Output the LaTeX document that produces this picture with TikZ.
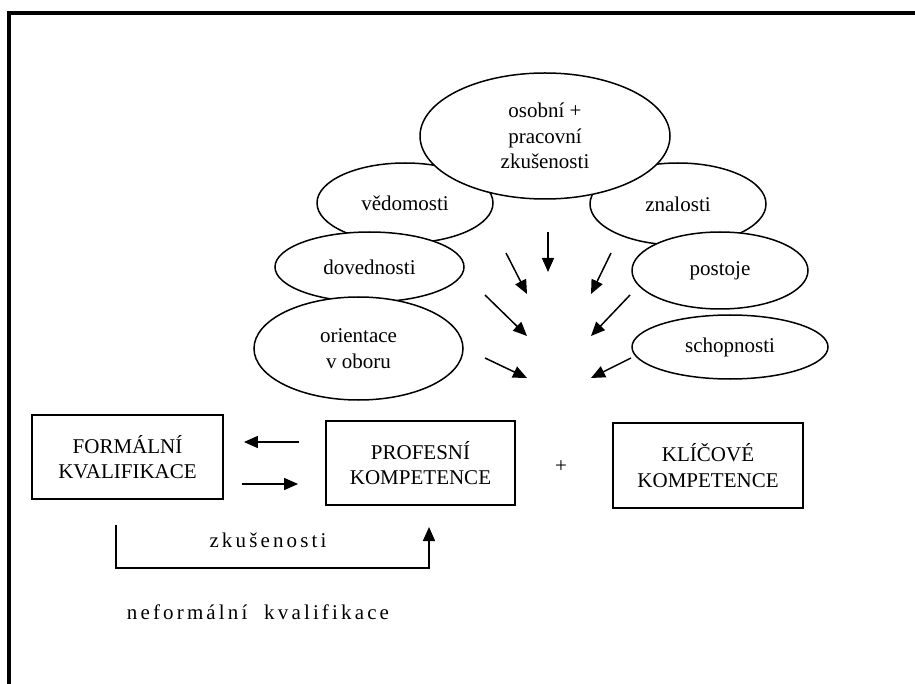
\documentclass[tikz,border=0pt]{standalone}
\usepackage{fontspec}
\setmainfont{Liberation Serif}
\usetikzlibrary{arrows.meta,calc,shapes.geometric}
\tikzset{
  bubble/.style={ellipse,draw,fill=white,line width=1.5pt,inner sep=0pt,align=center},
  box/.style={rectangle,draw,line width=1.8pt,inner sep=0pt,align=center,minimum width=190pt,minimum height=84pt},
  arr/.style={line width=1.5pt,-{Triangle[length=14pt,width=12pt]}},
  spaced/.style={font=\fontsize{21}{25}\selectfont\addfontfeature{LetterSpace=15}}
}

\begin{document}
\begin{tikzpicture}[x=1pt,y=-1pt,font=\fontsize{21}{25.5}\selectfont]
\useasboundingbox (0,0) rectangle (915,684);
\draw[line width=4pt] (9,684) -- (9,13.5) -- (915,13.5);

\node[bubble,minimum width=176pt,minimum height=80pt] (vedomosti) at (405,203) {vědomosti};
\node[bubble,minimum width=176pt,minimum height=82pt] (znalosti) at (678,204) {znalosti};
\node[bubble,minimum width=250pt,minimum height=126pt] (osobni) at (545,136) {osobní +\\pracovní\\zkušenosti};
\node[bubble,minimum width=189pt,minimum height=70pt] (dovednosti) at (369.5,267) {dovednosti};
\node[bubble,minimum width=176pt,minimum height=77pt] (postoje) at (720,270.5) {postoje};
\node[bubble,minimum width=209pt,minimum height=103pt] (orientace) at (358.5,348.5) {orientace\\v oboru};
\node[bubble,minimum width=196pt,minimum height=64pt] (schopnosti) at (730,347) {schopnosti};

\node[box,minimum width=191pt] (formalni) at (127.5,457) {FORMÁLNÍ\\KVALIFIKACE};
\node[box,minimum width=189pt] (profesni) at (420.5,463) {PROFESNÍ\\KOMPETENCE};
\node[box,minimum height=85pt] (klicove) at (708,465.5) {KLÍČOVÉ\\KOMPETENCE};
\node (plus) at (561,467) {+};

\coordinate (s1) at (548,232); \coordinate (t1) at (548,272);
\coordinate (s2) at (506,253); \coordinate (t2) at (527,294);
\coordinate (s3) at (611,253); \coordinate (t3) at (591,294);
\coordinate (s4) at (485,295); \coordinate (t4) at (527,336);
\coordinate (s5) at (630,295); \coordinate (t5) at (591,336);
\coordinate (s6) at (485,358); \coordinate (t6) at (527,378);
\coordinate (s7) at (631,358); \coordinate (t7) at (591,378);
\draw[arr] (s1) -- (t1);
\draw[arr] (s2) -- (t2);
\draw[arr] (s3) -- (t3);
\draw[arr] (s4) -- (t4);
\draw[arr] (s5) -- (t5);
\draw[arr] (s6) -- (t6);
\draw[arr] (s7) -- (t7);

\draw[arr,shorten <=26pt,shorten >=20pt] (profesni.west |- 0,442) -- (formalni.east |- 0,442);
\draw[arr,shorten <=18pt,shorten >=27pt] (formalni.east |- 0,484) -- (profesni.west |- 0,484);

\coordinate (zkA) at (116,525);
\coordinate (zkB) at (429,527);
\draw[arr] (zkA) -- ++(0,43) -| (zkB);
\node[spaced] (zkusenosti) at (268,540) {zkušenosti};
\node[spaced] (neformalni) at (258,612) {neformální~~kvalifikace};
\end{tikzpicture}
\end{document}
